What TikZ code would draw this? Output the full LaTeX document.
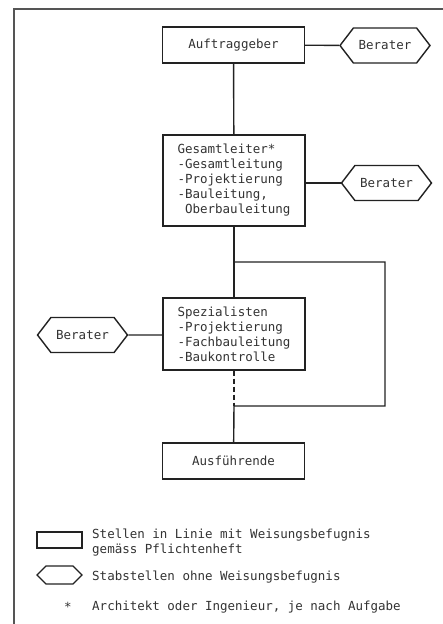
\documentclass[tikz,border=0pt]{standalone}
\usepackage{fontspec}
\setmonofont{DejaVu Sans Mono}
\usetikzlibrary{shapes.symbols}
\definecolor{ink}{HTML}{222222}
\definecolor{txt}{HTML}{333333}
\definecolor{framec}{HTML}{555555}
\begin{document}
\begin{tikzpicture}[x=1pt,y=-1pt,
  conn/.style={draw=ink, line width=1.4pt},
  txtfont/.style={font=\ttfamily\fontsize{12.5}{15}\selectfont, text=txt},
  box/.style={draw=ink, line width=1.4pt, minimum width=142pt, inner sep=0pt, align=left, txtfont},
  stab/.style={draw=ink, line width=1.4pt, signal, signal to=east and west, signal pointer angle=105,
    minimum width=90pt, minimum height=35pt, inner sep=0pt, txtfont},
  legtext/.style={anchor=west, align=left, inner sep=0pt, txtfont}
]
\useasboundingbox (0,0) rectangle (443,624);
\fill[white] (0,0) rectangle (443,624);
\draw[framec, line width=1.3pt] (443,9) -- (14,9) -- (14,624);

\node[box, minimum height=36pt] (auf) at (233.5,45) {Auftraggeber};
\node[stab] (b1) at (385,45.5) {Berater};
\node[box, minimum height=91pt] (ges) at (234,180.5) {Gesamtleiter*\\-Gesamtleitung\\-Projektierung\\-Bauleitung,\\\ Oberbauleitung};
\node[stab] (b2) at (386.5,183) {Berater};
\node[box, minimum height=72pt] (spe) at (234,334) {Spezialisten\\-Projektierung\\-Fachbauleitung\\-Baukontrolle};
\node[stab] (b3) at (82.5,335) {Berater};
\node[box, minimum height=36pt] (aus) at (233.5,461) {Ausführende};

\coordinate (j1) at (234,262);
\coordinate (c1) at (385,406);
\coordinate (j2) at (234,406);

\draw[conn] (auf) -- (b1);
\draw[conn] (auf) -- (ges);
\draw[conn] (b2.west) -- (b2.west -| ges.east);
\draw[conn] (ges) -- (spe);
\draw[conn] (j1) -| (c1) -- (j2) -- (aus);
\draw[conn, dash pattern=on 5pt off 3pt] (spe.south) -- (j2);
\draw[conn] (b3) -- (b3 -| spe.west);

% legend
\node[draw=ink, line width=1.1pt, minimum width=45pt, minimum height=16pt, inner sep=0pt] (lrect) at (59.5,540) {};
\node[draw=ink, line width=1.1pt, signal, signal to=east and west, signal pointer angle=90,
  minimum width=45pt, minimum height=18pt, inner sep=0pt] (lhex) at (59.5,575) {};
\node[legtext] (t1) at (92,542.5) {Stellen in Linie mit Weisungsbefugnis\\gemäss Pflichtenheft};
\node[legtext] (t2) at (92,577) {Stabstellen ohne Weisungsbefugnis};
\node[txtfont, inner sep=0pt] (star) at (68,607) {*};
\node[legtext] (t3) at (92,607) {Architekt oder Ingenieur, je nach Aufgabe};
\end{tikzpicture}
\end{document}
